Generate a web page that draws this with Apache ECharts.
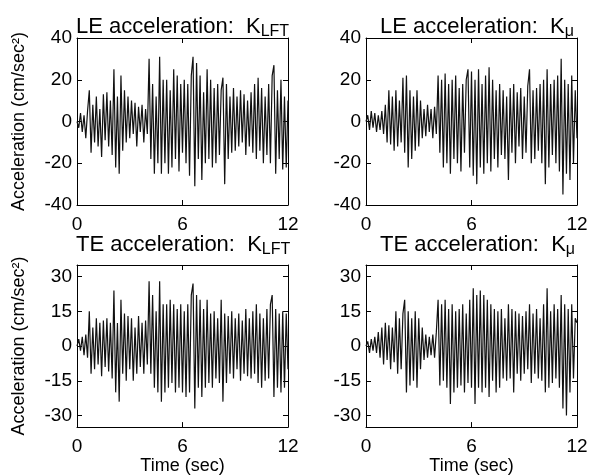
<!DOCTYPE html>
<html>
<head>
<meta charset="utf-8">
<script src="https://cdn.jsdelivr.net/npm/echarts@6/dist/echarts.min.js"></script>
<style>
html, body { margin: 0; padding: 0; background: #fff; }
#chart { width: 604px; height: 476px; }
</style>
</head>
<body>
<div id="chart"></div>
<script>
var leLft = [
  0, -3, 4, -5, 3, -8, 5, 15, -15, 8,
  -10, 12, -12, 6, -17, 13, -9, 14, -12, 10,
  -16, 25, -22, 12, -25, 22, -14, 15, -10, 12,
  -8, 10, -6, 9, -12, 7, -5, 8, -10, 6,
  -6, 30, -18, 18, -25, 12, -20, 31, -25, 20,
  -20, 20, -25, 15, -22, 25, -18, 22, -24, 18,
  -15, 20, -20, 18, -26, 22, 31, -31, 28, -18,
  22, -28, 14, -20, 25, -18, 20, -22, 16, -20,
  18, -16, 15, 21, -30, 18, -18, 12, -15, 16,
  -14, 12, -12, 15, -10, 13, -16, 10, -12, 14,
  -15, 18, -18, 21, -14, 16, -20, 12, -16, 18,
  -20, 22, 27, -25, 15, -18, 20, -23, 12, -22, 10
];
var leMu = [
  0, 3, -4, 5, -3, 4, -5, 3, -4, 5,
  -6, 8, -10, 15, -11, 12, -14, 15, -12, 10,
  -10, 21, -15, 22, -22, 15, -18, 12, -14, 15,
  -12, 10, -8, 6, -7, 8, -5, 6, -8, 7,
  -6, 22, -15, 20, -22, 23, -20, 18, -25, 20,
  -18, 22, -20, 16, -24, 18, -15, 20, 25, -22,
  24, -26, 20, -30, 25, -22, 18, -25, 22, -20,
  26, -24, 20, -18, 15, -22, 18, -16, 15, -18,
  12, -28, 16, -15, 18, -20, 14, -12, 16, -18,
  12, -15, 17, 25, -20, 15, -18, 16, -14, 18,
  -20, 20, -30, 25, -22, 18, -16, 20, -20, 22,
  -24, 30, -35, 20, -25, 18, -28, 22, -20, 15, -8
];
var teLft = [
  0, 3, -2, 4, -4, 5, -5, 15, -12, 8,
  -10, 12, -8, 10, -13, 11, -9, 12, -11, 10,
  -14, 24, -20, 10, -24, 20, -12, 14, -15, 13,
  -10, 12, -15, 8, -12, 13, -9, 10, -12, 11,
  -8, 28, -12, 22, -18, 15, -20, 28, -24, 18,
  -20, 18, -18, 20, -16, 18, -20, 16, -18, 18,
  -20, 15, -22, 18, -20, 22, 27, -27, 22, -18,
  20, -22, 16, -18, 20, -16, 14, -18, 15, -14,
  12, -16, 20, -24, 14, -16, 13, -12, 15, -14,
  12, -10, 14, -15, 11, -12, 16, -13, 12, -14,
  15, -12, 18, -16, 14, -18, 12, -15, 16, -14,
  18, 22, -22, 16, -18, 14, -20, 15, -18, 14, -10
];
var teMu = [
  0, 2, -3, 3, -2, 4, -3, 6, -5, 8,
  -8, 10, -6, 9, -10, 8, -7, 15, -12, 12,
  -10, 14, 20, -20, 15, -17, 12, -15, 15, -18,
  12, -10, 8, -6, 5, -5, 4, -4, 5, -5,
  6, 20, -17, 18, -15, 20, -18, 16, -25, 18,
  -20, 15, -18, 16, -17, 18, -20, 14, -16, 20,
  -18, 25, -25, 22, -18, 24, -20, 22, -18, 20,
  -22, 18, -15, 16, -20, 15, -18, 16, -14, 12,
  -15, 18, -14, 16, -20, 15, -12, 14, -15, 13,
  -12, 15, -10, 18, -16, 14, -12, 16, -14, 12,
  -15, 18, -20, 25, -18, 15, -16, 18, -14, 16,
  -18, 22, -27, 18, -30, 16, -20, 18, -14, 12, 10
];
var leTicks = [-40, -20, 0, 20, 40];
var teTicks = [-30, -15, 0, 15, 30];
var timeTicks = [0, 6, 12];
var dt = 0.1;

var font = 'Liberation Sans, Arial, Helvetica, sans-serif';

function pairs(vals) {
  return vals.map(function (v, i) { return [Math.round(i * dt * 10) / 10, v]; });
}

var chartDom = document.getElementById('chart');
var myChart = echarts.init(chartDom);

var grids = [
  { left: 77, top: 38, width: 211, height: 167 },
  { left: 366, top: 38, width: 211, height: 167 },
  { left: 77, top: 265, width: 211, height: 167 },
  { left: 366, top: 265, width: 211, height: 167 }
];

var xAxes = [];
var yAxes = [];
var series = [];
var allData = [leLft, leMu, teLft, teMu];

grids.forEach(function (g, i) {
  var bottomRow = i >= 2;
  var ticks = bottomRow ? teTicks : leTicks;
  var lim = bottomRow ? 35 : 40;
  // bottom + top x axes
  [false, true].forEach(function (isTop) {
    xAxes.push({
      gridIndex: i,
      type: 'value',
      position: isTop ? 'top' : 'bottom',
      min: 0, max: 12,
      axisLine: { show: true, onZero: false, lineStyle: { color: '#000', width: 1 } },
      axisTick: { show: true, inside: true, length: 5, customValues: timeTicks, lineStyle: { color: '#000' } },
      axisLabel: {
        show: !isTop, customValues: timeTicks, color: '#000', fontSize: 19,
        fontFamily: font, margin: 10
      },
      splitLine: { show: false },
      name: (!isTop && bottomRow) ? 'Time (sec)' : '',
      nameLocation: 'middle',
      nameGap: 29,
      nameTextStyle: { color: '#000', fontSize: 18, fontFamily: font }
    });
  });
  [false, true].forEach(function (isRight) {
    yAxes.push({
      gridIndex: i,
      type: 'value',
      position: isRight ? 'right' : 'left',
      min: -lim, max: lim,
      axisLine: { show: true, onZero: false, lineStyle: { color: '#000', width: 1 } },
      axisTick: { show: true, inside: true, length: 5, customValues: ticks, lineStyle: { color: '#000' } },
      axisLabel: {
        show: !isRight, customValues: ticks, color: '#000', fontSize: 19,
        fontFamily: font, margin: 5
      },
      splitLine: { show: false },
      name: (!isRight && i % 2 === 0) ? 'Acceleration (cm/sec\u00b2)' : '',
      nameLocation: 'middle',
      nameRotate: 90,
      nameGap: 49,
      nameTextStyle: { color: '#000', fontSize: 18, fontFamily: font }
    });
  });
  series.push({
    type: 'line',
    xAxisIndex: i * 2,
    yAxisIndex: i * 2,
    data: pairs(allData[i]),
    showSymbol: false,
    symbol: 'none',
    animation: false,
    lineStyle: { color: '#111', width: 1.2 }
  });
});

function title(text, sub, left, top) {
  return {
    text: '{a|' + text + '}{b|' + sub + '}',
    left: left, top: top, padding: 0,
    textStyle: {
      fontFamily: font,
      fontWeight: 'normal',
      rich: {
        a: { fontSize: 22, lineHeight: 26, color: '#000', fontFamily: font, fontWeight: 'normal' },
        b: { fontSize: 16, lineHeight: 14, verticalAlign: 'bottom', color: '#000', fontFamily: font, fontWeight: 'normal' }
      }
    }
  };
}

var option = {
  backgroundColor: '#fff',
  animation: false,
  title: [
    title('LE acceleration:  K', 'LFT', 76, 14),
    title('LE acceleration:  K', '\u03bc', 380, 14),
    title('TE acceleration:  K', 'LFT', 76, 232),
    title('TE acceleration:  K', '\u03bc', 380, 232)
  ],
  grid: grids,
  xAxis: xAxes,
  yAxis: yAxes,
  series: series
};

option && myChart.setOption(option);
</script>
</body>
</html>
